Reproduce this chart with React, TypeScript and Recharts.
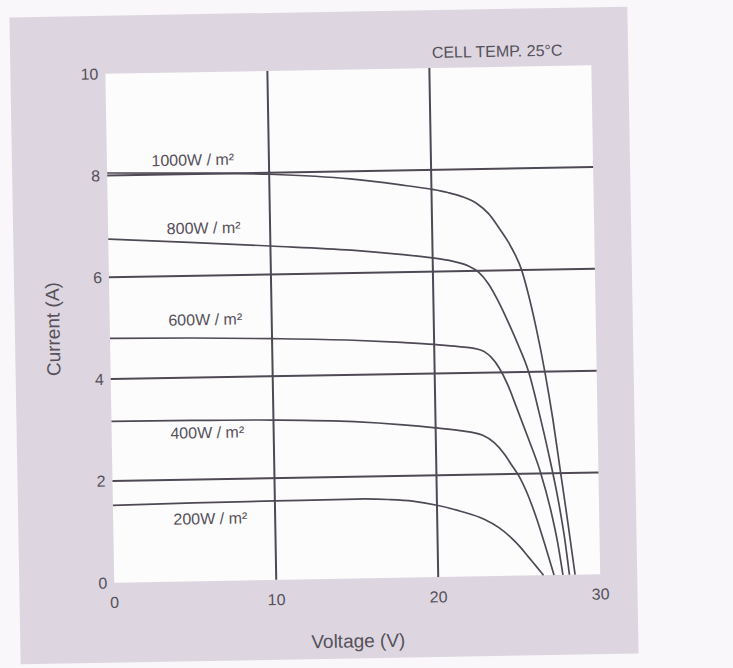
import React from 'react';
import { LineChart, Line, XAxis, YAxis, CartesianGrid, ReferenceLine, ReferenceDot } from 'recharts';

// I-V curves at 25°C cell temperature
const v1000 = [0, 5, 10, 15, 18, 20, 21, 22, 22.8, 23.5, 24.1, 24.7, 25.1, 25.45, 25.85, 26.3, 26.8, 27.25, 27.65, 28.05, 28.45];
const i1000 = [8.05, 8.02, 7.97, 7.85, 7.72, 7.62, 7.55, 7.45, 7.32, 7.12, 6.85, 6.55, 6.3, 6.03, 5.55, 4.88, 4.0, 3.05, 2.05, 1.05, 0];

const v800 = [0, 5, 10, 15, 18, 20, 21.2, 22.2, 22.8, 23.4, 24.0, 24.6, 25.2, 25.8, 26.4, 27.0, 27.5, 27.85, 28.1];
const i800 = [6.75, 6.66, 6.56, 6.45, 6.35, 6.27, 6.2, 6.1, 5.98, 5.75, 5.4, 4.98, 4.52, 4.0, 3.2, 2.3, 1.45, 0.7, 0];

const v600 = [0, 5, 10, 15, 18, 20, 21.5, 22.9, 23.5, 24.0, 24.5, 25.0, 25.7, 26.4, 27.0, 27.4, 27.7];
const i600 = [4.8, 4.78, 4.74, 4.68, 4.62, 4.57, 4.52, 4.44, 4.3, 4.08, 3.75, 3.32, 2.7, 2.05, 1.3, 0.65, 0];

const v400 = [0, 5, 10, 15, 18, 20, 21.5, 22.9, 23.6, 24.2, 24.7, 25.1, 25.6, 26.1, 26.6, 27.15];
const i400 = [3.17, 3.16, 3.14, 3.08, 3.0, 2.93, 2.87, 2.77, 2.62, 2.4, 2.15, 1.95, 1.6, 1.15, 0.62, 0];

const v200 = [0, 5, 10, 15, 17, 18.5, 20, 21.5, 22.9, 23.8, 24.6, 25.1, 25.6, 26.1, 26.5];
const i200 = [1.52, 1.54, 1.55, 1.56, 1.54, 1.5, 1.41, 1.28, 1.12, 0.95, 0.73, 0.56, 0.36, 0.16, 0];

const voltageTicks = [0, 10, 20, 30];
const currentTicks = [0, 2, 4, 6, 8, 10];
const voltageGrid = [10, 20];
const currentGrid = [2, 4, 6, 8];

// curve labels: text, voltage, current where they sit
const labelText = ['1000W / m²', '800W / m²', '600W / m²', '400W / m²', '200W / m²'];
const labelV = [5.3, 5.9, 5.9, 5.9, 6.0];
const labelI = [8.28, 6.94, 5.14, 2.92, 1.23];

const toPoints = (v: number[], i: number[]) => v.map((x, k) => ({ v: x, i: i[k] }));

const SERIES = [
  toPoints(v1000, i1000),
  toPoints(v800, i800),
  toPoints(v600, i600),
  toPoints(v400, i400),
  toPoints(v200, i200),
];

const INK = '#4e4954';
const TEXT = '#55505a';
const FONT = '"Liberation Sans", Arial, sans-serif';

const App: React.FC = () => {
  return (
    <div style={{ position: 'fixed', left: 0, top: 0, width: 733, height: 668, overflow: 'hidden', background: '#faf7fa' }}>
      <div style={{ position: 'absolute', left: 0, top: 0, width: 733, height: 668, transform: 'rotate(-1deg)', transformOrigin: '323px 336px' }}>
        <div style={{ position: 'absolute', left: 15, top: 12, width: 618, height: 647, background: '#ddd6e0' }} />
        <div style={{ position: 'absolute', left: 0, top: 0 }}>
          <LineChart width={733} height={668} margin={{ top: 70, right: 137, left: 0, bottom: 0 }}>
            <CartesianGrid fill="#fdfcfd" fillOpacity={1} horizontal={false} vertical={false} />
            <XAxis
              dataKey="v"
              type="number"
              domain={[0, 30]}
              ticks={voltageTicks}
              height={89}
              axisLine={false}
              tickLine={false}
              tickSize={0}
              tickMargin={14}
              tick={{ fontSize: 16, fill: TEXT, fontFamily: FONT }}
              label={{ value: 'Voltage (V)', position: 'insideBottom', offset: 20, fontSize: 19, fill: TEXT, fontFamily: FONT }}
            />
            <YAxis
              type="number"
              domain={[0, 10]}
              ticks={currentTicks}
              width={110}
              axisLine={false}
              tickLine={false}
              tickSize={0}
              tickMargin={7}
              tick={{ fontSize: 16, fill: TEXT, fontFamily: FONT }}
              label={{ value: 'Current (A)', angle: -90, position: 'center', dx: -2, fontSize: 19, fill: TEXT, fontFamily: FONT }}
            />
            {voltageGrid.map((g) => (
              <ReferenceLine key={'vg' + g} x={g} stroke={INK} strokeWidth={2} />
            ))}
            {currentGrid.map((g) => (
              <ReferenceLine key={'cg' + g} y={g} stroke={INK} strokeWidth={2} />
            ))}
            {SERIES.map((d, k) => (
              <Line
                key={labelText[k]}
                data={d}
                dataKey="i"
                type="monotone"
                dot={false}
                stroke={INK}
                strokeWidth={1.7}
                isAnimationActive={false}
              />
            ))}
            {labelText.map((t, k) => (
              <ReferenceDot
                key={'lb' + k}
                x={labelV[k]}
                y={labelI[k]}
                r={0}
                stroke="none"
                fill="none"
                label={{ value: t, position: 'center', fontSize: 16, fill: TEXT, fontFamily: FONT }}
              />
            ))}
            <ReferenceDot
              x={24.2}
              y={10.31}
              r={0}
              stroke="none"
              fill="none"
              ifOverflow="visible"
              label={{ value: 'CELL TEMP. 25°C', position: 'center', fontSize: 16, fill: TEXT, fontFamily: FONT }}
            />
          </LineChart>
        </div>
      </div>
    </div>
  );
};

export default App;
